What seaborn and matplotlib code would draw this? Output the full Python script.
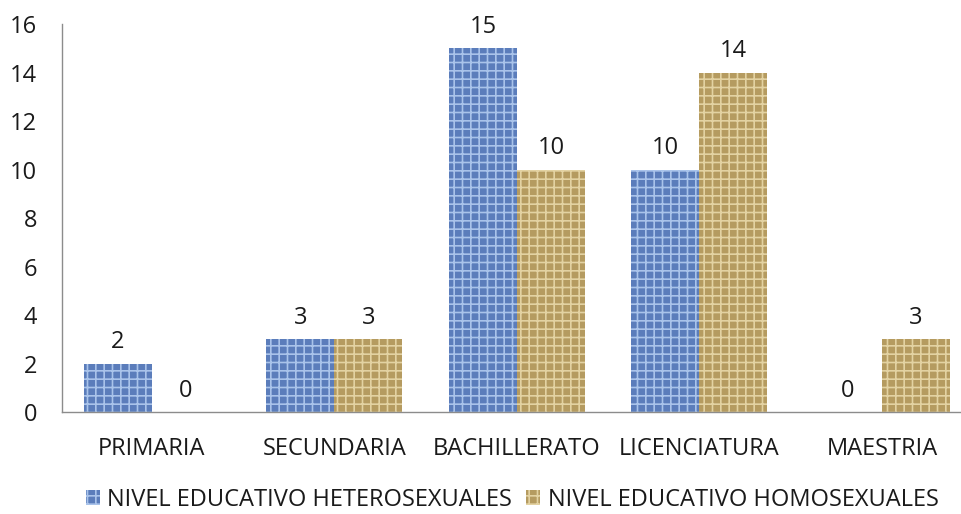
import matplotlib
matplotlib.use("Agg")
import matplotlib.pyplot as plt
import seaborn as sns
import pandas as pd

categories = ["PRIMARIA", "SECUNDARIA", "BACHILLERATO", "LICENCIATURA", "MAESTRIA"]
hetero = [2, 3, 15, 10, 0]
homo = [0, 3, 10, 14, 3]
series_names = ["NIVEL EDUCATIVO HETEROSEXUALES", "NIVEL EDUCATIVO HOMOSEXUALES"]

sns.set_theme(style="white")
plt.rcParams['font.family'] = ['Open Sans', 'DejaVu Sans']
plt.rcParams['hatch.linewidth'] = 1.2

df = pd.DataFrame({
    "cat": categories * 2,
    "val": hetero + homo,
    "serie": [series_names[0]] * 5 + [series_names[1]] * 5,
})

fig = plt.figure(figsize=(9.61, 5.14), dpi=100)
ax = fig.add_axes([0.0645, 0.198, 1 - 0.0645, 0.755])

colors = ["#5b7dbb", "#b59b60"]
sns.barplot(data=df, x="cat", y="val", hue="serie", palette=colors,
            order=categories, hue_order=series_names, width=0.745,
            saturation=1, ax=ax, errorbar=None, legend=False)

hatch_cols = ["#a9c3ea", "#e3d2a2"]
for cont, hc in zip(ax.containers, hatch_cols):
    for bar in cont:
        bar.set_hatch("++")
        bar.set_edgecolor(hc)
        bar.set_linewidth(0)
    ax.bar_label(cont, padding=7, fontsize=17, color="#1a1a1a")

ax.set_ylim(0, 16)
ax.set_yticks(range(0, 17, 2))
ax.set_xlim(-0.493, 4.433)
ax.set_xlabel("")
ax.set_ylabel("")
ax.tick_params(axis="y", labelsize=17, length=0, pad=18, colors="#1a1a1a")
ax.tick_params(axis="x", labelsize=17, length=0, pad=18, colors="#1a1a1a")
for s in ["top", "right"]:
    ax.spines[s].set_visible(False)
for s in ["left", "bottom"]:
    ax.spines[s].set_color("#8c8c8c")
    ax.spines[s].set_linewidth(1)

from matplotlib.patches import Patch
handles = [Patch(facecolor=fc, edgecolor=hc, hatch="++", linewidth=0)
           for fc, hc in zip(colors, hatch_cols)]
fig.legend(handles, series_names, loc="center", bbox_to_anchor=(0.533, 0.027),
           ncol=2, frameon=False, fontsize=17, handlelength=0.6, handleheight=0.6,
           handletextpad=0.3, columnspacing=0.6, labelcolor="#1a1a1a",
           borderpad=0, borderaxespad=0)

fig.savefig("out.png", dpi=100)
